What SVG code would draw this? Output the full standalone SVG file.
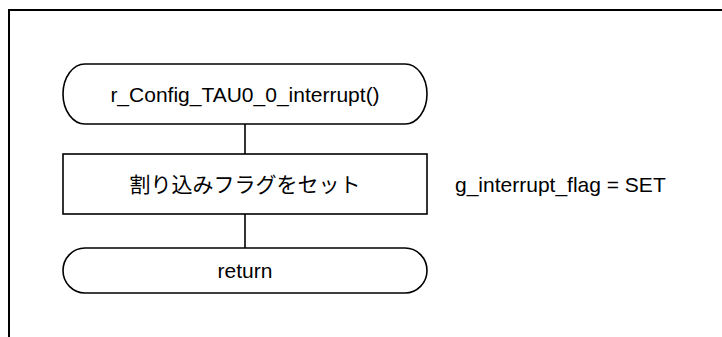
<svg xmlns="http://www.w3.org/2000/svg" width="722" height="337" viewBox="0 0 722 337">
  <style>
    .shape { fill: #ffffff; stroke: #000000; stroke-width: 1.6; }
    .frame { fill: none; stroke: #000000; stroke-width: 2; }
    .conn { fill: none; stroke: #000000; stroke-width: 1.6; }
    .lbl { font-family: "Liberation Sans", Arial, "Noto Sans CJK JP", sans-serif; font-size: 21px; fill: #000000; }
    .jp { font-family: "Noto Sans CJK JP", "Liberation Sans", sans-serif; font-size: 21px; fill: #000000; }
  </style>
  <rect width="722" height="337" fill="#ffffff"/>
  <!-- outer frame: top and left edges -->
  <path class="frame" d="M9,337 V10 H722"/>

  <g id="connectors">
    <line class="conn" x1="245" y1="124" x2="245" y2="154"/>
    <line class="conn" x1="245" y1="214" x2="245" y2="248"/>
  </g>

  <g id="start">
    <rect class="shape" x="63" y="64" width="364" height="60" rx="22" ry="30"/>
    <text class="lbl" x="245" y="101.5" text-anchor="middle">r_Config_TAU0_0_interrupt()</text>
  </g>

  <g id="set-flag">
    <rect class="shape" x="63" y="154" width="364" height="60"/>
    <text class="jp" x="245" y="192" text-anchor="middle">割り込みフラグをセット</text>
  </g>

  <g id="note">
    <text class="lbl" x="455" y="191.5">g_interrupt_flag = SET</text>
  </g>

  <g id="end">
    <rect class="shape" x="63" y="248" width="364" height="45" rx="22" ry="22.5"/>
    <text class="lbl" x="245" y="278" text-anchor="middle">return</text>
  </g>
</svg>
